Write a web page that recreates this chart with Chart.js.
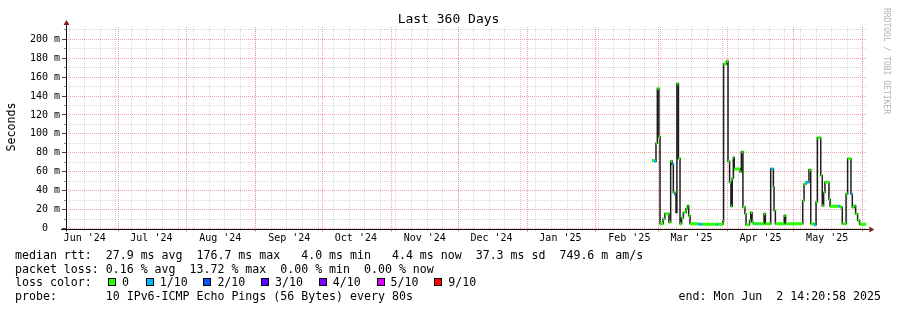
<!DOCTYPE html>
<html>
<head>
<meta charset="utf-8">
<title>Last 360 Days</title>
<script src="https://cdn.jsdelivr.net/npm/chart.js@4.4.1/dist/chart.umd.min.js"></script>
<style>
  body{margin:0;background:#fff;}
  #wrap{position:relative;width:897px;height:310px;font-family:'DejaVu Sans Mono',monospace;color:#000;overflow:hidden;}
  #wrap canvas{position:absolute;left:0;top:0;}
  .txt{position:absolute;white-space:pre;font-size:11.6px;line-height:14px;}
  .box{position:absolute;width:8px;height:8px;border:1px solid #000;box-sizing:border-box;}
</style>
</head>
<body>
<div id="wrap">
  <canvas id="chart" width="897" height="310"></canvas>
  <div class="txt" style="left:0;width:897px;text-align:center;top:11px;font-size:13px;line-height:15px">Last 360 Days</div>
  <div class="txt" style="left:-39px;top:120px;width:100px;text-align:center;transform:rotate(-90deg)">Seconds</div>
  <div class="txt" style="left:836px;top:53px;width:100px;text-align:center;font-size:8px;line-height:10px;color:#b4b4b4;transform:rotate(90deg)">RRDTOOL / TOBI OETIKER</div>
  <div id="legend"></div>
</div>
<script>
// graph end: Mon Jun 2 14:20:58 2025, range 360 days; x values are days since graph start
const END = Date.UTC(2025, 5, 2, 14, 20, 58);
const RANGE_DAYS = 360;
const START = END - RANGE_DAYS * 86400000;

const monthLabels = ["Jun '24","Jul '24","Aug '24","Sep '24","Oct '24","Nov '24","Dec '24","Jan '25","Feb '25","Mar '25","Apr '25","May '25"];
const yTicks = [0,20,40,60,80,100,120,140,160,180,200];
const yMinorTicks = [0,10,20,30,40,50,60,70,80,90,100,110,120,130,140,150,160,170,180,190,200,210];

// median rtt steps (value holds until next step)
const rttDay = [263.6,264.5,265.4,266.0,266.7,267.2,268.6,269.4,271.2,272.0,272.7,273.2,273.9,274.4,274.8,275.5,276.2,276.9,277.7,278.9,
  279.6,280.1,280.7,284.5,286.3,292.4,293.1,295.5,295.8,297.1,297.8,298.5,299.1,299.7,300.2,300.6,303.2,303.8,304.5,305.4,
  305.9,307.5,308.0,308.6,309.2,310.4,311.0,314.0,314.6,317.0,318.2,318.5,319.1,323.1,323.7,331.4,332.0,332.9,334.2,335.0,
  336.6,337.4,338.0,339.5,340.2,340.8,341.4,343.2,343.7,347.4,348.2,348.9,349.2,350.9,351.6,353.1,353.7,354.6,355.2,356.1,357.0];
const rttMs = [72,71,90,148,97,5,10,15.5,6.7,71,68,38,36,17,153,74,5,11,17,21,
  24,13.6,5,4.5,4.5,4.5,4.5,7.8,174,176.7,71,49,23.6,53,75,63,60,81,22.6,15.5,
  4,8.5,17,6.7,5,5,5,15.5,5,63,44,19,5,13.7,5,29.6,47,49,62,5,
  4,28,96,56,24,38,49,31,23.5,23.5,23,22,5,36.6,73.7,36.6,22.5,24,15.5,8.5,4.4];
const lossTenths = [0,1,0,0,0,0,0,0,0,0,1,0,2,1,0,0,0,0,0,0,
  0,0,0,1,0,1,0,0,0,0,0,0,0,0,0,0,0,0,0,0,
  0,0,0,0,0,1,0,0,0,1,0,0,0,0,0,0,0,1,0,0,
  1,0,0,0,0,0,0,0,0,1,0,0,0,0,0,1,0,0,0,0,0];

const lossSteps = [0,1,2,3,4,5,9];
const lossLabels = ['0','1/10','2/10','3/10','4/10','5/10','9/10'];
const lossColors = ['#26ff00','#00b8ff','#0059ff','#5e00ff','#7e00ff','#dd00ff','#ff0000'];

const legendLines = [
  'median rtt:  27.9 ms avg  176.7 ms max   4.0 ms min   4.4 ms now  37.3 ms sd  749.6 m am/s',
  'packet loss: 0.16 % avg  13.72 % max  0.00 % min  0.00 % now',
  'loss color:',
  'probe:       10 IPv6-ICMP Echo Pings (56 Bytes) every 80s'
];
const endText = 'end: Mon Jun  2 14:20:58 2025';

const GRID = 'rgba(143,143,143,0.35)';
const MGRID = 'rgba(230,70,70,0.5)';
const AXIS = '#111';
const ARROW = '#7f1f1f';

function dayOf(y, m, d){ return (Date.UTC(y, m, d) - START) / 86400000; }
function lossColor(t){ return lossColors[lossSteps.indexOf(t)] || lossColors[0]; }

const labelDays = monthLabels.map((_, i) => dayOf(2024, 5 + i, 16));
const monthDays = [];
for(let i = 0; dayOf(2024, 6 + i, 1) < RANGE_DAYS; i++) monthDays.push(dayOf(2024, 6 + i, 1));
const weekDays = [];
for(let d = dayOf(2024, 5, 9); d < RANGE_DAYS; d += 7) weekDays.push(d);

// smoke/step line and coloured median segments
const stepPts = rttDay.map((d, i) => ({x:d, y:rttMs[i]}));
stepPts.push({x:RANGE_DAYS, y:rttMs[rttMs.length - 1]});
const medianPts = [];
rttDay.forEach((d, i) => {
  const next = i < rttDay.length - 1 ? rttDay[i + 1] : RANGE_DAYS;
  medianPts.push({x:d, y:rttMs[i], loss:lossTenths[i]}, {x:next, y:rttMs[i], loss:lossTenths[i]}, {x:next, y:null});
});

function fixTicks(list){ return s => { s.ticks = list.map(v => ({value:v})); }; }

const rrdAxes = {
  id:'rrdAxes',
  afterDraw(chart){
    const {ctx, chartArea:a} = chart;
    const x0 = Math.round(a.left) + 0.5, y0 = Math.round(a.bottom) + 0.5;
    ctx.save();
    ctx.strokeStyle = AXIS; ctx.lineWidth = 1;
    ctx.beginPath();
    ctx.moveTo(a.left - 5, y0); ctx.lineTo(a.right + 3, y0);
    ctx.moveTo(x0, a.bottom + 3); ctx.lineTo(x0, a.top - 2);
    ctx.stroke();
    ctx.fillStyle = ARROW;
    ctx.beginPath();
    ctx.moveTo(a.right + 3, y0 - 3); ctx.lineTo(a.right + 8, y0); ctx.lineTo(a.right + 3, y0 + 3); ctx.closePath();
    ctx.moveTo(x0 - 3, a.top - 2); ctx.lineTo(x0, a.top - 7); ctx.lineTo(x0 + 3, a.top - 2); ctx.closePath();
    ctx.fill();
    ctx.restore();
  }
};

Chart.defaults.font.family = "'DejaVu Sans Mono', monospace";
Chart.defaults.color = '#000';

new Chart(document.getElementById('chart'), {
  type:'line',
  data:{datasets:[
    {data:medianPts, borderWidth:3, pointRadius:0, spanGaps:false, borderCapStyle:'butt',
      segment:{borderColor:c => lossColor(medianPts[c.p0DataIndex].loss)}},
    {data:stepPts, stepped:'before', borderColor:'#1e1e1e', borderWidth:1.5, pointRadius:0}
  ]},
  options:{
    responsive:false, animation:false, devicePixelRatio:1,
    layout:{padding:{left:0, right:30.7, top:27, bottom:61.5}},
    plugins:{legend:{display:false}, tooltip:{enabled:false}, title:{display:false}},
    scales:{
      x:{type:'linear', min:0, max:RANGE_DAYS, position:'bottom', weight:1,
        afterBuildTicks:fixTicks(labelDays), afterFit:s => { s.height = 20; },
        ticks:{autoSkip:false, maxRotation:0, padding:4, font:{size:10}, callback:(v, i) => monthLabels[i]},
        grid:{drawOnChartArea:false, drawTicks:false}, border:{display:false}},
      xWeek:{type:'linear', min:0, max:RANGE_DAYS, position:'bottom', weight:0,
        afterBuildTicks:fixTicks(weekDays), afterFit:s => { s.height = 0; },
        ticks:{display:false},
        grid:{color:GRID, tickLength:2, tickColor:'#b0b0b0'}, border:{display:false, dash:[1,1]}},
      xMonth:{type:'linear', min:0, max:RANGE_DAYS, position:'bottom', weight:0,
        afterBuildTicks:fixTicks(monthDays), afterFit:s => { s.height = 0; },
        ticks:{display:false},
        grid:{color:MGRID, tickLength:3, tickColor:'#e07070'}, border:{display:false, dash:[1,1]}},
      yMinor:{type:'linear', min:0, max:213, position:'left', weight:0,
        afterBuildTicks:fixTicks(yMinorTicks), afterFit:s => { s.width = 0; },
        ticks:{display:false},
        grid:{color:c => c.tick && c.tick.value % 20 === 0 ? 'rgba(0,0,0,0)' : GRID, tickLength:2,
          tickColor:c => c.tick && c.tick.value % 20 === 0 ? 'rgba(0,0,0,0)' : '#888'},
        border:{display:false, dash:[1,1]}},
      y:{type:'linear', min:0, max:213, position:'left', weight:1,
        afterBuildTicks:fixTicks(yTicks), afterFit:s => { s.width = 66; },
        ticks:{padding:2, font:{size:10}, callback:v => v === 0 ? '0  ' : v + ' m'},
        grid:{color:MGRID, tickLength:4, tickColor:'#444'}, border:{display:false, dash:[1,1]}}
    }
  },
  plugins:[rrdAxes]
});

// text legend below the graph
function legendHTML(){
  const tops = [247.5, 261.5, 275, 288.5];
  let html = legendLines.map((t, i) => `<div class="txt" style="left:15px;top:${tops[i]}px">${t}</div>`).join('');
  html += lossLabels.map((l, i) => {
    const bx = i === 0 ? 108 : 145.7 + (i - 1) * 57.7;
    return `<div class="box" style="left:${bx}px;top:278px;background:${lossColors[i]}"></div>` +
      `<div class="txt" style="left:${bx + 14}px;top:${tops[2]}px">${l}</div>`;
  }).join('');
  html += `<div class="txt" style="right:16px;top:${tops[3]}px">${endText}</div>`;
  return html;
}
document.getElementById('legend').innerHTML = legendHTML();
</script>
</body>
</html>
